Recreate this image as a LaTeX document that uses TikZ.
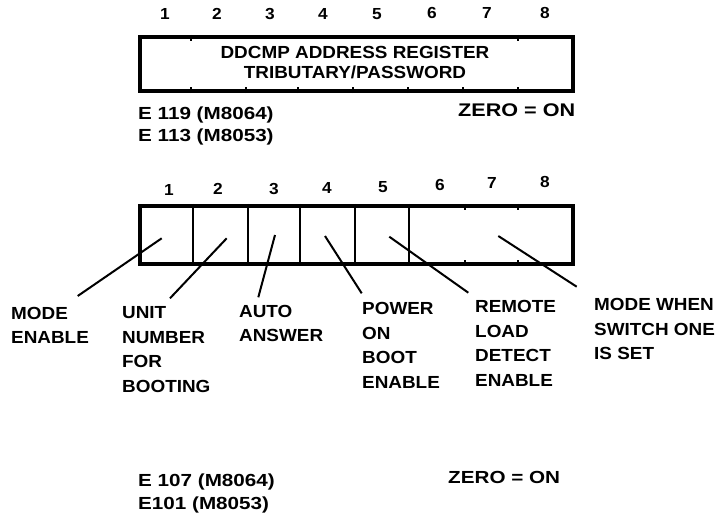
\documentclass[tikz,border=0pt]{standalone}
\usepackage{fontspec}
\setmainfont{Liberation Sans}
\newfontfamily\labf{Liberation Sans Bold}[FakeStretch=1.08]
\newfontfamily\widef{Liberation Sans Bold}[FakeStretch=1.18]
\begin{document}
\begin{tikzpicture}[x=1pt,y=-1pt,
  lbl/.style={font=\labf\fontsize{17.5}{24.5}\selectfont, inner sep=0, align=left, anchor=north west},
  num/.style={font=\labf\fontsize{16}{18}\selectfont, inner sep=0, anchor=base},
  txt/.style={font=\widef\fontsize{17.5}{22}\selectfont, inner sep=0, anchor=base west},
  regbox/.style={draw, line width=3.6pt, inner sep=0},
  divline/.style={line width=2.2pt},
  tickline/.style={line width=2pt},
  lead/.style={line width=2pt}]
\useasboundingbox (0,0) rectangle (721,523);

% ---------- top register ----------
\node[regbox, minimum width=433.5pt, minimum height=54.5pt] (reg) at (356.5,64) {};
\node[font=\labf\fontsize{17.5}{20}\selectfont, inner sep=0, align=center, anchor=north] (regtxt) at (355,46)
  {DDCMP ADDRESS REGISTER\\TRIBUTARY/PASSWORD};
\foreach \x in {191,518} \draw[tickline] (\x,0 |- reg.north) -- ++(0,6);
\foreach \x in {191,246,298,353,408,463,518} \draw[tickline] (\x,0 |- reg.south) -- ++(0,-6);
\foreach \i/\x/\y in {1/165/19.5,2/217/19.5,3/270/19.5,4/323/19.3,5/377/19,6/432/18.8,7/487/18.5,8/545/18.3}
  \node[num] (n\i) at (\x,\y) {\i};
\node[txt] (e119) at (138,119.5) {E 119 (M8064)};
\node[txt] (e113) at (138,141.5) {E 113 (M8053)};
\node[txt, font=\widef\fontsize{18.3}{22}\selectfont] (zero1) at (458,116) {ZERO = ON};

% ---------- lower switch block ----------
\node[regbox, minimum width=433.5pt, minimum height=58.5pt] (sw) at (356.5,235) {};
\foreach \x in {193,248,300,355,409} \draw[divline] (\x,0 |- sw.north) -- (\x,0 |- sw.south);
\foreach \x in {465,518} {
  \draw[tickline] (\x,0 |- sw.north) -- ++(0,6);
  \draw[tickline] (\x,0 |- sw.south) -- ++(0,-6);
}
\foreach \i/\x/\y in {1/169/195,2/218/194,3/274/194,4/327/193,5/383/192,6/440/190,7/492/188.5,8/545/187.5}
  \node[num] (m\i) at (\x,\y) {\i};

% labels
\node[lbl] (l1) at (11,307) {MODE\\ENABLE};
\node[lbl] (l2) at (122,306.5) {UNIT\\NUMBER\\FOR\\BOOTING};
\node[lbl] (l3) at (239,305) {AUTO\\ANSWER};
\node[lbl] (l4) at (362,302.5) {POWER\\ON\\BOOT\\ENABLE};
\node[lbl] (l5) at (475,300.5) {REMOTE\\LOAD\\DETECT\\ENABLE};
\node[lbl] (l6) at (594,298.5) {MODE WHEN\\SWITCH ONE\\IS SET};

% leader lines
\coordinate (s1) at (161.7,238.3); \coordinate (t1) at (77.7,296);
\coordinate (s2) at (226.7,238.3); \coordinate (t2) at (170,298.3);
\coordinate (s3) at (275,235);     \coordinate (t3) at (258.3,297.3);
\coordinate (s4) at (325,236);     \coordinate (t4) at (361.7,293.3);
\coordinate (s5) at (389.3,236.7); \coordinate (t5) at (468.3,292.7);
\coordinate (s6) at (498.3,236);   \coordinate (t6) at (576.7,286.7);
\foreach \k in {1,...,6} \draw[lead] (s\k) -- (t\k);

% bottom texts
\node[txt] (e107) at (138,486) {E 107 (M8064)};
\node[txt] (e101) at (138,509.5) {E101 (M8053)};
\node[txt] (zero2) at (448,483) {ZERO = ON};
\end{tikzpicture}
\end{document}
